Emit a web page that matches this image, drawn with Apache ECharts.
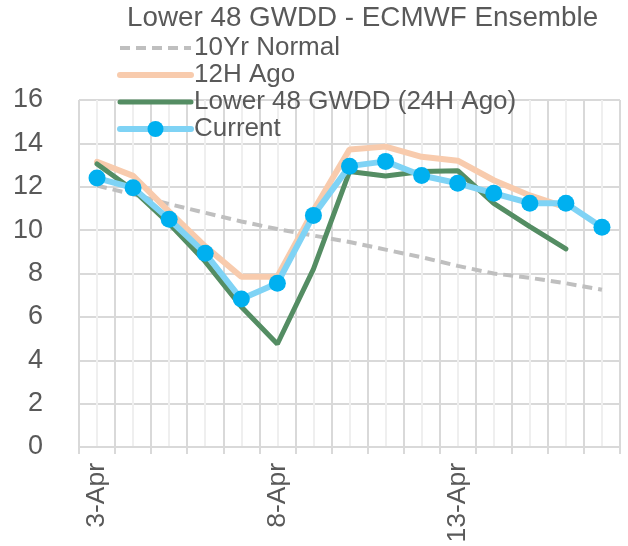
<!DOCTYPE html>
<html><head><meta charset="utf-8">
<script src="https://cdn.jsdelivr.net/npm/echarts@6/dist/echarts.min.js"></script>
<style>html,body{margin:0;padding:0;background:#fff}#c{width:628px;height:546px}</style>
</head><body><div id="c"></div>
<script>
const categories = ['3-Apr','4-Apr','5-Apr','6-Apr','7-Apr','8-Apr','9-Apr','10-Apr','11-Apr','12-Apr','13-Apr','14-Apr','15-Apr','16-Apr','17-Apr'];
const normal10yr = [12.05,11.65,11.2,10.8,10.4,10.05,9.75,9.45,9.1,8.75,8.35,8.0,7.8,7.55,7.25];
const ago12h = [13.15,12.5,10.85,9.25,7.85,7.85,10.9,13.72,13.85,13.38,13.2,12.3,11.6,11.05,null];
const ago24h = [13.05,11.85,10.3,8.55,6.47,4.75,8.2,12.7,12.5,12.7,12.74,11.23,10.16,9.13,null];
const current = [12.4,11.95,10.5,8.93,6.82,7.55,10.68,12.95,13.17,12.52,12.16,11.7,11.24,11.24,10.13];
const yTicks = {min:0, max:16, interval:2};

const txt = '#595959';
const ff = 'Liberation Sans, Arial, sans-serif';
const cNormal = '#bfbfbf', c12 = '#f8cbad', c24 = '#548d63', cCurLine = '#7fd3f5', cCurDot = '#00b0f0';
const chart = echarts.init(document.getElementById('c'), null, {renderer:'canvas'});
chart.setOption({
  animation:false,
  backgroundColor:'#fff',
  title:{text:'Lower 48 GWDD - ECMWF Ensemble', left:127, top:4, padding:0,
    textStyle:{color:txt, fontSize:27.8, fontWeight:'normal', fontFamily:ff}},
  legend:{orient:'vertical', left:117, top:35, padding:0, itemWidth:71, itemHeight:20, itemGap:1,
    textStyle:{color:txt, fontSize:26, fontFamily:ff, lineHeight:20, padding:[0,0,0,-2]},
    lineStyle:{width:'inherit'},
    data:[
      {name:'10Yr Normal', itemStyle:{opacity:0}},
      {name:'12H Ago', itemStyle:{opacity:0}},
      {name:'Lower 48 GWDD (24H Ago)', itemStyle:{opacity:0}},
      {name:'Current'}
    ]},
  grid:{left:79, right:8, top:100, bottom:99, containLabel:false},
  xAxis:[
    {type:'category', data:categories, boundaryGap:true,
     axisLine:{show:true, lineStyle:{color:'#d9d9d9', width:2}},
     axisTick:{show:true, interval:0, length:7, lineStyle:{color:'#d9d9d9', width:2}},
     axisLabel:{interval:4, rotate:90, color:txt, fontSize:26.5, fontFamily:ff, margin:16},
     splitLine:{show:false}},
    {type:'value', min:0, max:30, interval:1, show:true, position:'bottom',
     axisLine:{show:false}, axisTick:{show:false}, axisLabel:{show:false},
     splitLine:{show:true, lineStyle:{color:['#d9d9d9','#efefef'], width:2}}}
  ],
  yAxis:{type:'value', min:yTicks.min, max:yTicks.max, interval:yTicks.interval,
    axisLine:{show:false}, axisTick:{show:false},
    axisLabel:{color:txt, fontSize:27, fontFamily:ff, margin:36},
    splitLine:{show:true, lineStyle:{color:'#d9d9d9', width:2}}},
  series:[
    {name:'10Yr Normal', type:'line', data:normal10yr, symbol:'none', z:2,
     lineStyle:{color:cNormal, width:4, type:[10,6]}, itemStyle:{color:cNormal}},
    {name:'12H Ago', type:'line', data:ago12h, symbol:'none', z:3,
     lineStyle:{color:c12, width:6, cap:'round'}, itemStyle:{color:c12}},
    {name:'Lower 48 GWDD (24H Ago)', type:'line', data:ago24h, symbol:'none', z:4,
     lineStyle:{color:c24, width:5, cap:'round'}, itemStyle:{color:c24}},
    {name:'Current', type:'line', data:current, symbol:'circle', symbolSize:17, z:5,
     lineStyle:{color:cCurLine, width:6, cap:'round'}, itemStyle:{color:cCurDot}}
  ]
});
</script></body></html>
